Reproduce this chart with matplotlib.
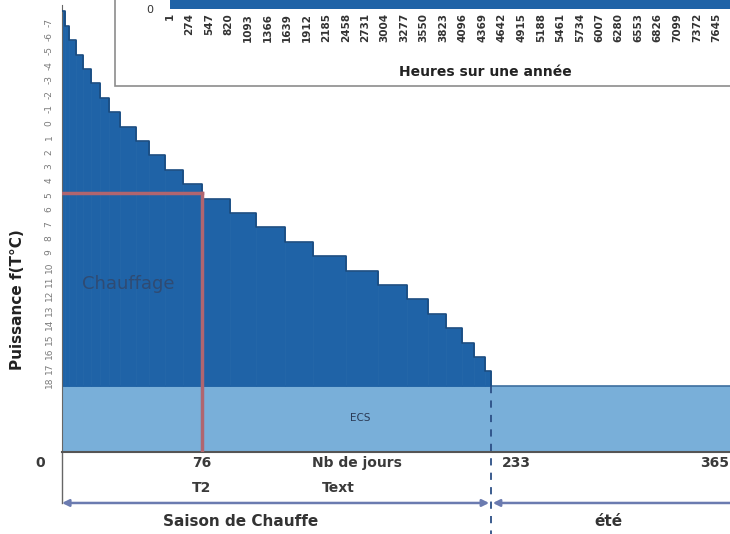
import matplotlib.pyplot as plt
from matplotlib.patches import Rectangle

# Monotone de chauffage : temperature exterieure, jour cumule de fin de palier, puissance
temperatures = [-7, -6, -5, -4, -3, -2, -1, 0, 1, 2, 3, 4, 5,
                6, 7, 8, 9, 10, 11, 12, 13, 14, 15, 16, 17, 18]
fin_jours = [1.5, 4, 7.5, 11.5, 16, 20.5, 25.5, 31.5, 40, 47, 56, 65.5, 76,
             91, 105.5, 121, 136.5, 154.5, 171.5, 187.5, 199, 208.5, 217, 224, 229.5, 233]
puissance = [26, 25, 24, 23, 22, 21, 20, 19, 18, 17, 16, 15, 14,
             13, 12, 11, 10, 9, 8, 7, 6, 5, 4, 3, 2, 1]
puissance_ecs = 4.6
jour_t2 = 76
puissance_t2 = 13.4
fin_saison = 233
jours_annee = 365

# petit graphique du haut (heures sur une annee)
heures_ticks = [1, 274, 547, 820, 1093, 1366, 1639, 1912, 2185, 2458, 2731, 3004,
                3277, 3550, 3823, 4096, 4369, 4642, 4915, 5188, 5461, 5734, 6007,
                6280, 6553, 6826, 7099, 7372, 7645]

bleu = '#1f63a7'
bleu_clair = '#79afd9'
rouge = '#b0656f'
texte = '#3a3a3a'

fig = plt.figure(figsize=(7.3, 5.34), dpi=100)
W, H = 730, 534

ax = fig.add_axes([62 / W, (H - 452) / H, 672 / W, 447 / H])
ax.set_xlim(0, jours_annee)
ax.set_ylim(0, 447 / 14.4)

# ECS
ax.fill_between([0, jours_annee], 0, puissance_ecs, color=bleu_clair, lw=0, zorder=1)
ax.plot([0, jours_annee], [puissance_ecs, puissance_ecs], color='#3d6f9f', lw=1.2, zorder=2)

# paliers de chauffage
debuts = [0] + fin_jours[:-1]
largeurs = [f - d for f, d in zip(fin_jours, debuts)]
ax.bar(debuts, puissance, width=largeurs, bottom=puissance_ecs, align='edge',
       color=bleu, edgecolor=bleu, lw=0.5, zorder=2)
# contour en escalier
xs, ys = [0], [puissance_ecs + puissance[0]]
for d, f, p in zip(debuts, fin_jours, puissance):
    xs += [d, f]
    ys += [puissance_ecs + p, puissance_ecs + p]
xs.append(fin_jours[-1])
ys.append(puissance_ecs)
ax.plot(xs, ys, color='#1a4c80', lw=1.2, zorder=3)

# T2
ax.plot([0, jour_t2], [puissance_ecs + puissance_t2] * 2, color=rouge, lw=2.5, zorder=4)
ax.plot([jour_t2, jour_t2], [0, puissance_ecs + puissance_t2], color=rouge, lw=2.5, zorder=4)

# fin de saison de chauffe
ax.plot([fin_saison, fin_saison], [puissance_ecs, -5.9], color='#2c4f86', lw=1.3,
        ls=(0, (4, 4)), clip_on=False, zorder=5)

ax.text(11, 11.7, 'Chauffage', color='#2f4b73', fontsize=13, va='center', zorder=5)
ax.text(162, 2.36, 'ECS', color='#2a3a55', fontsize=7.5, ha='center', va='center', zorder=5)

for s in ['top', 'right']:
    ax.spines[s].set_visible(False)
ax.spines['left'].set_color('#666666')
ax.spines['bottom'].set_color('#555555')
ax.spines['bottom'].set_linewidth(1.5)
ax.set_xticks([])
ax.set_yticks([puissance_ecs + p - 0.75 for p in puissance])
ax.set_yticklabels([str(t) for t in temperatures], rotation=90, fontsize=6.5,
                   color='#7a7a7a', va='center')
ax.tick_params(axis='y', length=0, pad=6)

# axe des jours
ax.plot([0, 0], [0, -3.54], color='#666666', lw=1, clip_on=False)
kw = dict(fontsize=10, fontweight='bold', color=texte, va='center', clip_on=False)
ax.text(-12, -0.76, '0', ha='center', **kw)
ax.text(jour_t2, -0.76, str(jour_t2), ha='center', **kw)
ax.text(160, -0.76, 'Nb de jours', ha='center', **kw)
ax.text(239, -0.76, str(fin_saison), ha='left', **kw)
ax.text(362.5, -0.76, str(jours_annee), ha='right', **kw)
ax.text(jour_t2, -2.5, 'T2', ha='center', **kw)
ax.text(150, -2.5, 'Text', ha='center', **kw)

fl = dict(arrowstyle='<|-|>', color='#6b7bb0', lw=1.8, mutation_scale=10,
          shrinkA=0, shrinkB=0)
ax.annotate('', xy=(0, -3.54), xytext=(fin_saison - 1, -3.54),
            arrowprops=fl, annotation_clip=False)
ax.annotate('', xy=(fin_saison + 1, -3.54), xytext=(jours_annee + 10, -3.54),
            arrowprops=fl, annotation_clip=False)
kw2 = dict(fontsize=11, fontweight='bold', color='#333333', va='center', ha='center',
           clip_on=False)
ax.text(97, -4.86, 'Saison de Chauffe', **kw2)
ax.text(297, -4.86, 'été', **kw2)

fig.text(18 / W, 1 - 300 / H, 'Puissance f(T°C)', rotation=90, fontsize=11,
         fontweight='bold', color='#222222', ha='center', va='center')

# cadre du graphique insere en haut
fig.patches.append(Rectangle((115 / W, (H - 86) / H), 1, 1, transform=fig.transFigure,
                             facecolor='white', edgecolor='#8c8c8c', lw=1.2, zorder=10))
ax_in = fig.add_axes([170 / W, (H - 9) / H, 626 / W, 9 / H], zorder=11)
ax_in.set_xlim(0, 8760)
ax_in.set_ylim(0, 1)
ax_in.fill_between([0, 8760], 0, 1, color=bleu, lw=0)
for s in ax_in.spines.values():
    s.set_visible(False)
ax_in.set_yticks([0])
ax_in.set_yticklabels(['0'], fontsize=8, color='#333333')
ax_in.set_xticks(heures_ticks)
ax_in.set_xticklabels([str(h) for h in heures_ticks], rotation=90, fontsize=7.5,
                      color='#333333', fontweight='bold')
ax_in.tick_params(length=0)
ax_in.tick_params(axis='y', pad=12)
ax_in.tick_params(axis='x', pad=3)
fig.text(485 / W, 1 - 72 / H, 'Heures sur une année', fontsize=10, fontweight='bold',
         color='#222222', ha='center', va='center', zorder=12)

fig.savefig('out.png', dpi=100)
